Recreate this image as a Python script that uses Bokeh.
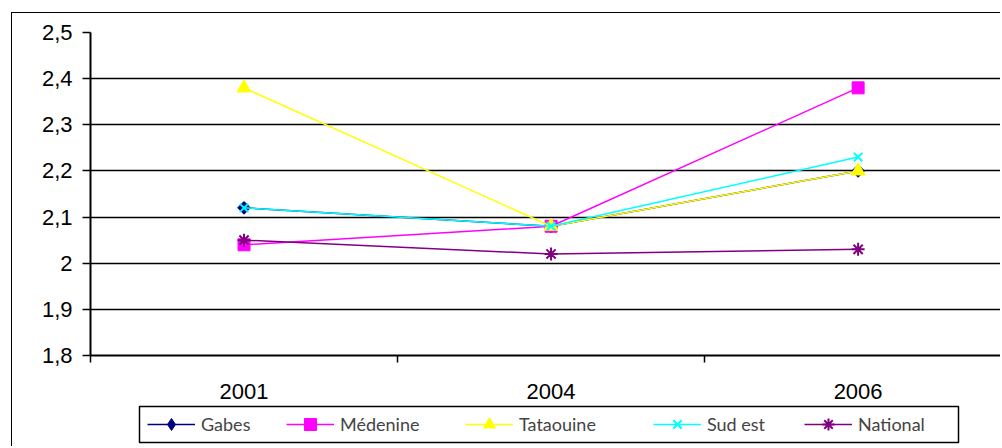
import math
from bokeh.plotting import figure
from bokeh.layouts import column
from bokeh.models import (Range1d, FixedTicker, CustomJSTickFormatter, Legend,
                          LegendItem, BoxAnnotation)
from bokeh.embed import file_html
from bokeh.resources import INLINE

# ---- data ----
years = ["2001", "2004", "2006"]
series_names = ["Gabes", "Médenine", "Tataouine", "Sud est", "National"]
gabes = [2.12, 2.08, 2.20]
medenine = [2.04, 2.08, 2.38]
tataouine = [2.38, 2.08, 2.20]
sud_est = [2.12, 2.08, 2.23]
national = [2.05, 2.02, 2.03]
y_ticks = [1.8, 1.9, 2.0, 2.1, 2.2, 2.3, 2.4, 2.5]

# ---- styles ----
colors = ["#000080", "#FF00FF", "#FFFF00", "#00FFFF", "#800080"]
markers = ["square", "square", "triangle", "x", "asterisk"]
legend_markers = ["diamond", "square", "triangle", "x", "asterisk"]
angles = [math.pi / 4, 0, 0, 0, 0]
sizes = [9, 12, 14, 12, 13]
values = [gabes, medenine, tataouine, sud_est, national]

xpos = [i + 0.5 for i in range(len(years))]

# ---------------- chart ----------------
p = figure(width=989, height=392, output_backend="svg", toolbar_location=None,
           x_range=Range1d(0, 2.967), y_range=Range1d(1.8, 2.5),
           min_border_left=78, min_border_right=0, min_border_top=19,
           min_border_bottom=50)
p.styles = {"margin-left": "11px", "margin-top": "12px",
            "border-left": "1px solid black", "border-top": "1px solid black"}
p.outline_line_color = None
p.background_fill_color = "white"
p.border_fill_color = "white"

# y axis
p.yaxis.ticker = FixedTicker(ticks=y_ticks)
p.yaxis.formatter = CustomJSTickFormatter(
    code="const s = (Math.round(tick*10)/10).toString(); return s.replace('.', ',');")
p.yaxis.major_label_text_font = "Liberation Sans"
p.yaxis.major_label_text_font_size = "22px"
p.yaxis.major_label_text_color = "black"
p.yaxis.major_tick_in = 0
p.yaxis.major_tick_out = 8
p.yaxis.major_tick_line_width = 1.5
p.yaxis.minor_tick_line_color = None
p.yaxis.major_label_standoff = 10
p.yaxis.axis_line_width = 2
p.yaxis.axis_line_color = "black"

# x axis
p.xaxis.ticker = FixedTicker(ticks=xpos, minor_ticks=[0, 1, 2])
p.xaxis.major_label_overrides = {x: y for x, y in zip(xpos, years)}
p.xaxis.major_label_text_font = "Liberation Sans"
p.xaxis.major_label_text_font_size = "22px"
p.xaxis.major_label_text_color = "black"
p.xaxis.major_tick_in = 0
p.xaxis.major_tick_out = 0
p.xaxis.major_tick_line_color = None
p.xaxis.minor_tick_in = 0
p.xaxis.minor_tick_out = 7
p.xaxis.minor_tick_line_width = 1.5
p.xaxis.minor_tick_line_color = "black"
p.xaxis.major_label_standoff = 21
p.xaxis.axis_line_width = 2
p.xaxis.axis_line_color = "black"

# grid
p.xgrid.grid_line_color = None
p.ygrid.ticker = FixedTicker(ticks=y_ticks)
p.ygrid.grid_line_color = "black"
p.ygrid.grid_line_width = 1.5

for name, vals, c, m, a, s in zip(series_names, values, colors, markers, angles, sizes):
    p.line(xpos, vals, line_color=c, line_width=1.5)
    p.scatter(xpos, vals, marker=m, size=s, angle=a, fill_color=c, line_color=c,
              line_width=2 if m in ("x", "asterisk") else 1)

# ---------------- legend strip ----------------
p2 = figure(width=989, height=42, output_backend="svg", toolbar_location=None,
            x_range=Range1d(0, 1), y_range=Range1d(0, 1),
            x_axis_type=None, y_axis_type=None, min_border=0)
p2.styles = {"margin-left": "11px", "border-left": "1px solid black"}
p2.outline_line_color = None
p2.xgrid.grid_line_color = None
p2.ygrid.grid_line_color = None
p2.background_fill_color = "white"
p2.border_fill_color = "white"

p2.add_layout(BoxAnnotation(left=126, right=945, top=2, bottom=38,
                            left_units="canvas", right_units="canvas",
                            top_units="canvas", bottom_units="canvas",
                            fill_alpha=0, line_color="black", line_width=1.5,
                            line_alpha=1.0))

# legend item offsets, relative to the (column-aligned) frame's left edge
item_x = [57, 196, 375, 563, 714]
for name, vals, c, m, lx in zip(series_names, values, colors, legend_markers, item_x):
    ln = p2.line(xpos, vals, line_color=c, line_width=1.5)
    sc = p2.scatter(xpos, vals, marker=m, fill_color=c, line_color=c,
                    line_width=2 if m in ("x", "asterisk") else 1)
    lg = Legend(items=[LegendItem(label=name, renderers=[ln, sc])],
                location=(lx, 7), orientation="horizontal",
                glyph_width=48, glyph_height=30, label_standoff=6,
                label_text_font="Lato", label_text_font_size="18px",
                label_height=20, spacing=0, margin=0, padding=0,
                border_line_color=None, background_fill_alpha=0.0)
    p2.add_layout(lg, "center")

layout = column(p, p2, spacing=0)
open("out.html", "w").write(file_html(layout, INLINE))
